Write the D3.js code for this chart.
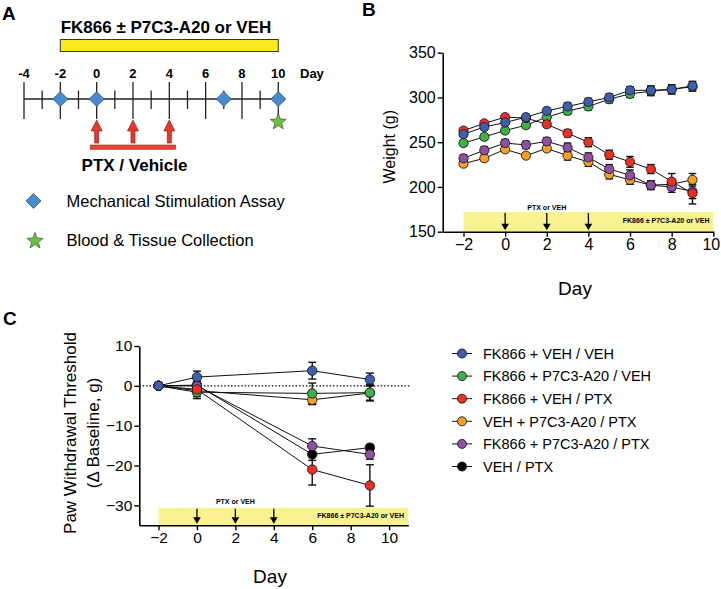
<!DOCTYPE html>
<html><head><meta charset="utf-8">
<script src="https://cdn.jsdelivr.net/npm/d3@7"></script>
<style>body{margin:0;background:#fff} svg{display:block} text{font-family:"Liberation Sans",Arial,Helvetica,sans-serif}</style>
</head><body><svg id="c" width="721" height="589"></svg>
<script>
// ---------- DATA ----------
const seriesNames = ["FK866 + VEH / VEH","FK866 + P7C3-A20 / VEH","FK866 + VEH / PTX","VEH + P7C3-A20 / PTX","FK866 + P7C3-A20 / PTX","VEH / PTX"];
const seriesColors = ["#3d5fae","#3cb34a","#ed3024","#f6a027","#8f4fa3","#000000"];

// Panel A (schedule)
const scheduleLabelDays = [-4,-2,0,2,4,6,8,10];
const scheduleMinorDays = [-3,-1,1,3,5,7,9];
const assayDays = [-2,0,7,10];
const ptxDays = [0,2,4];
const collectionDays = [10];

// Panel B (weight)
const weightDays = [-2,-1,0,1,2,3,4,5,6,7,8,9];
const weightBlue    = [259,267,272,278,285,290,295,300,308,308,309,313];
const weightBlueErr = [3,3,3,3,3,4,4,4,4,5,5,5];
const weightGreen    = [249,256,263,269,278,285,290,298,304,307,309,312];
const weightGreenErr = [3,3,3,3,4,4,4,4,4,5,5,5];
const weightRed    = [263,271,278,277,270,260,250,236,228,220,206,193];
const weightRedErr = [3,3,3,3,3,4,5,5,6,5,9,12];
const weightOrange    = [226,232,242,235,243,235,228,214,208,202,203,208];
const weightOrangeErr = [3,3,3,3,3,5,5,5,5,4,6,7];
const weightPurple    = [232,241,249,247,251,244,233,220,213,202,200,195];
const weightPurpleErr = [4,4,4,4,4,5,5,5,6,5,6,8];
const weightYTicks = [150,200,250,300,350];
const weightXTicks = [-2,0,2,4,6,8,10];

// Panel C (paw withdrawal)
const pawDays = [-2,0,6,9];
const pawBlue = [0,2.2,3.8,1.6],     pawBlueErr = [0,1.5,2.1,1.6];
const pawGreen = [0,-1.6,-1.9,-1.7], pawGreenErr = [0,1.6,2.6,2.1];
const pawRed = [0,-0.9,-21,-25],     pawRedErr = [0,1,3.9,5.2];
const pawOrange = [0,-1.2,-3.5,-1.8],pawOrangeErr = [0,1.5,1.2,1.8];
const pawPurple = [0,0,-15.1,-17.2], pawPurpleErr = [0,1,1.8,1.2];
const pawBlack = [0,0.2,-17.2,-15.5],pawBlackErr = [0,1,1.5,0.8];
const pawYTicks = [-30,-20,-10,0,10];
const pawXTicks = [-2,0,2,4,6,8,10];

// ---------- HELPERS ----------
const svg = d3.select("#c");
function starPath(cx, cy, R, r){
  const pts=[];
  for(let i=0;i<10;i++){const a=-Math.PI/2+i*Math.PI/5;const rr=i%2?r:R;pts.push([cx+rr*Math.cos(a),cy+rr*Math.sin(a)]);}
  return "M"+pts.map(p=>p.join(",")).join("L")+"Z";
}
function diamondPath(cx,cy,h){return `M${cx},${cy-h}L${cx+h},${cy}L${cx},${cy+h}L${cx-h},${cy}Z`;}

// ---------- PANEL LETTERS ----------
svg.append("text").attr("x",2).attr("y",20).attr("font-size",19).attr("font-weight","bold").text("A");
svg.append("text").attr("x",362).attr("y",16).attr("font-size",19).attr("font-weight","bold").text("B");
svg.append("text").attr("x",3).attr("y",325).attr("font-size",19).attr("font-weight","bold").text("C");

// ---------- PANEL A ----------
{
  const xA = d3.scaleLinear().domain([-4,10]).range([24,278.3]);
  const g = svg.append("g");
  const ty = 99;
  g.append("text").attr("x",166).attr("y",33).attr("text-anchor","middle").attr("font-size",17).attr("font-weight","bold").text("FK866 ± P7C3-A20 or VEH");
  g.append("rect").attr("x",xA(-2)).attr("y",39.5).attr("width",xA(10)-xA(-2)).attr("height",12).attr("fill","#f7ea1e").attr("stroke","#333").attr("stroke-width",1);
  g.append("line").attr("x1",xA(-4)).attr("x2",xA(10)).attr("y1",ty).attr("y2",ty).attr("stroke","#222").attr("stroke-width",1.3);
  g.selectAll(".maj").data(scheduleLabelDays).join("line").attr("x1",d=>xA(d)).attr("x2",d=>xA(d)).attr("y1",82).attr("y2",119).attr("stroke","#222").attr("stroke-width",1.3);
  g.selectAll(".min").data(scheduleMinorDays).join("line").attr("x1",d=>xA(d)).attr("x2",d=>xA(d)).attr("y1",90.5).attr("y2",109).attr("stroke","#222").attr("stroke-width",1.3);
  g.selectAll(".lab").data(scheduleLabelDays).join("text").attr("x",d=>xA(d)).attr("y",78).attr("text-anchor","middle").attr("font-size",13).attr("font-weight","bold").text(d=>d);
  g.append("text").attr("x",300).attr("y",78).attr("font-size",13).attr("font-weight","bold").text("Day");
  // arrows
  ptxDays.forEach(d=>{
    const x=xA(d);
    g.append("path").attr("d",`M${x},120L${x+5.5},131L${x+2},131L${x+2},143L${x-2},143L${x-2},131L${x-5.5},131Z`).attr("fill","#e8372c").attr("stroke","#8a1f1a").attr("stroke-width",0.7);
  });
  g.append("rect").attr("x",xA(-0.35)).attr("y",145).attr("width",xA(4.35)-xA(-0.35)).attr("height",4.3).attr("fill","#e0473a").attr("stroke","#a32a22").attr("stroke-width",0.6);
  g.append("text").attr("x",134.5).attr("y",170.5).attr("text-anchor","middle").attr("font-size",17).attr("font-weight","bold").text("PTX / Vehicle");
  // diamonds
  g.selectAll(".dia").data(assayDays).join("path").attr("d",d=>diamondPath(xA(d),ty,7.5)).attr("fill","#4a8bd0").attr("stroke","#2b4770").attr("stroke-width",0.7);
  g.selectAll(".star").data(collectionDays).join("path").attr("d",d=>starPath(xA(d),122,8.5,3.6)).attr("fill","#6cbf45").attr("stroke","#3a5a2a").attr("stroke-width",0.7);
  // legend
  g.append("path").attr("d",diamondPath(33.5,201,7.5)).attr("fill","#4a8bd0").attr("stroke","#2b4770").attr("stroke-width",0.7);
  g.append("text").attr("x",66.5).attr("y",207).attr("font-size",16.5).text("Mechanical Stimulation Assay");
  g.append("path").attr("d",starPath(35,241,8.5,3.6)).attr("fill","#6cbf45").attr("stroke","#3a5a2a").attr("stroke-width",0.7);
  g.append("text").attr("x",66.5).attr("y",246).attr("font-size",16.5).text("Blood & Tissue Collection");
}

// ---------- common plotting ----------
function drawSeries(g, x, y, days, vals, errs, color, r, cap){
  const pts = days.map((d,i)=>({d, v:vals[i], e:errs[i]}));
  g.append("path").datum(pts).attr("fill","none").attr("stroke","#111").attr("stroke-width",1)
    .attr("d", d3.line().x(p=>x(p.d)).y(p=>y(p.v)));
  const eg = g.append("g").attr("stroke","#111").attr("stroke-width",1.4);
  pts.filter(p=>p.e>0).forEach(p=>{
    eg.append("line").attr("x1",x(p.d)).attr("x2",x(p.d)).attr("y1",y(p.v-p.e)).attr("y2",y(p.v+p.e));
    eg.append("line").attr("x1",x(p.d)-cap).attr("x2",x(p.d)+cap).attr("y1",y(p.v-p.e)).attr("y2",y(p.v-p.e));
    eg.append("line").attr("x1",x(p.d)-cap).attr("x2",x(p.d)+cap).attr("y1",y(p.v+p.e)).attr("y2",y(p.v+p.e));
  });
  return pts;
}
function drawDots(g,x,y,pts,color,r){
  g.selectAll(null).data(pts).join("circle").attr("cx",p=>x(p.d)).attr("cy",p=>y(p.v)).attr("r",r)
    .attr("fill",color).attr("stroke","#1a1a1a").attr("stroke-width",0.9);
}
function treatmentBar(g, x, y, x0, x1, top, bottom, arrowTopV, textY, labelY, right){
  g.append("rect").attr("x",x(x0)).attr("y",y(top)).attr("width",x(x1)-x(x0)).attr("height",y(bottom)-y(top)).attr("fill","#f8f291");
  ptxDays.forEach(d=>{
    const xx=x(d), y0=y(top)+1, y1=y(bottom)-1.5;
    g.append("line").attr("x1",xx).attr("x2",xx).attr("y1",y0).attr("y2",y1-5).attr("stroke","#000").attr("stroke-width",1.3);
    g.append("path").attr("d",`M${xx-3.8},${y1-6.5}L${xx+3.8},${y1-6.5}L${xx},${y1}Z`).attr("fill","#000");
  });
  g.append("text").attr("x",x(2)).attr("y",textY).attr("text-anchor","middle").attr("font-size",7).attr("font-weight","bold").text("PTX or VEH");
  g.append("text").attr("x",right).attr("y",labelY).attr("text-anchor","end").attr("font-size",7).attr("font-weight","bold").text("FK866 ± P7C3-A20 or VEH");
}
function styleAxis(sel, fs){
  sel.select(".domain").attr("stroke","#000").attr("stroke-width",1.6);
  sel.selectAll(".tick line").attr("stroke","#000").attr("stroke-width",1.4);
  sel.selectAll(".tick text").attr("font-size",fs).attr("fill","#000").attr("font-family","'Liberation Sans',Arial,sans-serif");
}

// ---------- PANEL B ----------
{
  const x = d3.scaleLinear().domain([-3,10]).range([442.7,713.3]);
  const y = d3.scaleLinear().domain([150,350]).range([231.7,52.7]);
  const g = svg.append("g");
  treatmentBar(g,x,y,-2,10,172,150,null,210,223.3,709.5);
  const order = [
    [weightGreen,weightGreenErr,1],[weightOrange,weightOrangeErr,3],[weightPurple,weightPurpleErr,4],
    [weightRed,weightRedErr,2],[weightBlue,weightBlueErr,0]];
  const all = order.map(([v,e,c])=>[drawSeries(g,x,y,weightDays,v,e,seriesColors[c],4.6,3.8),c]);
  all.forEach(([pts,c])=>drawDots(g,x,y,pts,seriesColors[c],4.6));
  const ax = g.append("g").attr("transform","translate(0,231.7)").call(d3.axisBottom(x).tickValues(weightXTicks).tickSize(5).tickPadding(2).tickSizeOuter(0));
  styleAxis(ax,16);
  ax.selectAll(".tick text").filter(d=>d===10).attr("dx",-2.5);
  const ay = g.append("g").attr("transform","translate(442.7,0)").call(d3.axisLeft(y).tickValues(weightYTicks).tickSize(5).tickPadding(2).tickSizeOuter(0));
  styleAxis(ay,16);
  g.append("text").attr("transform","translate(395,146.7) rotate(-90)").attr("text-anchor","middle").attr("font-size",16).text("Weight (g)");
  g.append("text").attr("x",575).attr("y",295).attr("text-anchor","middle").attr("font-size",19).text("Day");
}

// ---------- PANEL C ----------
{
  const x = d3.scaleLinear().domain([-3,11]).range([139.3,408.3]);
  const y = d3.scaleLinear().domain([-35,10]).range([525.3,346]);
  const g = svg.append("g");
  treatmentBar(g,x,y,-2,11,-30.6,-35,null,504,517.7,404);
  g.append("line").attr("x1",x(-3)).attr("x2",x(11.1)).attr("y1",y(0)).attr("y2",y(0)).attr("stroke","#000").attr("stroke-width",1.4).attr("stroke-dasharray","1.4,2");
  const order = [
    [pawBlack,pawBlackErr,5],[pawPurple,pawPurpleErr,4],[pawOrange,pawOrangeErr,3],
    [pawGreen,pawGreenErr,1],[pawRed,pawRedErr,2],[pawBlue,pawBlueErr,0]];
  const all = order.map(([v,e,c])=>[drawSeries(g,x,y,pawDays,v,e,seriesColors[c],4.7,4),c]);
  all.forEach(([pts,c])=>drawDots(g,x,y,pts,seriesColors[c],4.7));
  const ax = g.append("g").attr("transform","translate(0,525.3)").call(d3.axisBottom(x).tickValues(pawXTicks).tickSize(5).tickPadding(2).tickSizeOuter(0));
  styleAxis(ax,15.5);
  const ay = g.append("g").attr("transform","translate(139.3,0)").call(d3.axisLeft(y).tickValues(pawYTicks).tickSize(5).tickPadding(2).tickSizeOuter(0));
  styleAxis(ay,15.5);
  g.append("text").attr("transform","translate(75.5,433) rotate(-90)").attr("text-anchor","middle").attr("font-size",17).text("Paw Withdrawal Threshold");
  g.append("text").attr("transform","translate(98.5,433) rotate(-90)").attr("text-anchor","middle").attr("font-size",17).text("(Δ Baseline, g)");
  g.append("text").attr("x",270).attr("y",583).attr("text-anchor","middle").attr("font-size",19).text("Day");

  // legend
  const lg = svg.append("g");
  seriesNames.forEach((n,i)=>{
    const yy = 353.5 + i*22.6;
    lg.append("line").attr("x1",452).attr("x2",472).attr("y1",yy).attr("y2",yy).attr("stroke","#111").attr("stroke-width",1);
    lg.append("circle").attr("cx",462).attr("cy",yy).attr("r",4.5).attr("fill",seriesColors[i]).attr("stroke","#1a1a1a").attr("stroke-width",0.9);
    lg.append("text").attr("x",483).attr("y",yy).attr("dy","0.36em").attr("font-size",14.5).text(n);
  });
}
</script></body></html>
